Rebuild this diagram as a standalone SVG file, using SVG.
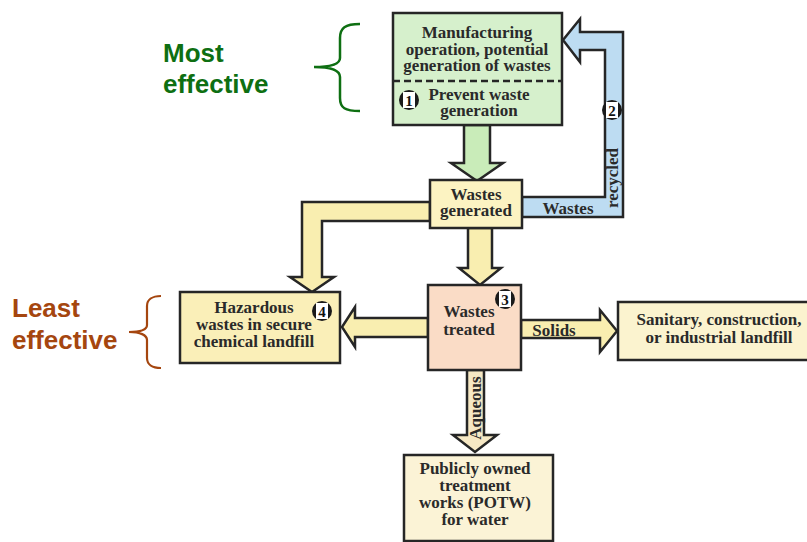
<svg xmlns="http://www.w3.org/2000/svg" width="807" height="542" viewBox="0 0 807 542">
<style>
.box{stroke:#262626;stroke-width:2.5}
.arr{stroke:#262626;stroke-width:2.5;stroke-linejoin:miter}
.t{font-family:"Liberation Serif",serif;font-weight:bold;font-size:17px;fill:#2a2a2a;text-anchor:middle}
.side{font-family:"Liberation Sans",Arial,sans-serif;font-weight:bold;font-size:26px}
.num{font-family:"Liberation Serif",serif;font-weight:bold;font-size:15px;fill:#111;text-anchor:middle}
</style>
<rect width="807" height="542" fill="#ffffff"/>
<g id="connectors">
<polygon class="arr" fill="#c9ecb9" points="464,125 490,125 490,163 503,163 477,181 451,163 464,163"/>
<polygon class="arr" fill="#bddcf2" points="522,197 605,197 605,50 580,50 580,62 563,40 580,19 580,32 623,32 623,217 522,217"/>
<polygon class="arr" fill="#f9eeb0" points="430,202 302,202 302,277 290,277 312,292 334,277 322,277 322,221 430,221"/>
<polygon class="arr" fill="#f9eeb0" points="468,228 492,228 492,268 501,268 480,285 459,268 468,268"/>
<polygon class="arr" fill="#f9eeb0" points="428,318 355,318 355,307 342,327 355,347 355,337 428,337"/>
<polygon class="arr" fill="#f9eeb0" points="521,320 600,320 600,310 617,331 600,352 600,338 521,338"/>
<polygon class="arr" fill="#f6e8c4" points="467,370 484,370 484,435 497,435 475,452 453,435 467,435"/>
<text class="t" x="568" y="214">Wastes</text>
<text class="t" transform="translate(618,178) rotate(-90)">recycled</text>
<text class="t" x="554" y="336">Solids</text>
<text class="t" transform="translate(481,408) rotate(-90)">Aqueous</text>
<g id="badge2"><circle cx="612" cy="110" r="10" fill="#1a1a1a"/><rect x="606" y="102" width="12" height="16" fill="#fff"/><text class="num" x="612" y="115.5">2</text></g>
</g>
<g id="manufacturing">
<rect class="box" x="393" y="13" width="169" height="112" fill="#d6f0cc"/>
<line x1="393" y1="81" x2="562" y2="81" stroke="#262626" stroke-width="2.5" stroke-dasharray="7,4"/>
<text class="t" x="477" y="38">Manufacturing</text>
<text class="t" x="477" y="55">operation, potential</text>
<text class="t" x="477" y="71">generation of wastes</text>
<text class="t" x="479" y="100">Prevent waste</text>
<text class="t" x="479" y="116">generation</text>
<circle cx="409" cy="100" r="10" fill="#1a1a1a"/><rect x="403" y="92" width="12" height="16" fill="#fff"/><text class="num" x="409" y="105.5">1</text>
</g>
<g id="wastes-generated">
<rect class="box" x="430" y="180" width="92" height="48" fill="#fcf3c2"/>
<text class="t" x="476" y="200">Wastes</text>
<text class="t" x="476" y="216">generated</text>
</g>
<g id="wastes-treated">
<rect class="box" x="428" y="285" width="93" height="85" fill="#fadcc6"/>
<text class="t" x="469" y="317">Wastes</text>
<text class="t" x="469" y="335">treated</text>
<circle cx="505" cy="299" r="10" fill="#1a1a1a"/><rect x="499" y="291" width="12" height="16" fill="#fff"/><text class="num" x="505" y="304.5">3</text>
</g>
<g id="hazardous">
<rect class="box" x="180" y="292" width="160" height="71" fill="#faefb8"/>
<text class="t" x="254" y="313">Hazardous</text>
<text class="t" x="254" y="330">wastes in secure</text>
<text class="t" x="254" y="347">chemical landfill</text>
<circle cx="322" cy="311" r="10" fill="#1a1a1a"/><rect x="316" y="303" width="12" height="16" fill="#fff"/><text class="num" x="322" y="316.5">4</text>
</g>
<g id="sanitary">
<rect class="box" x="618" y="302" width="200" height="58" fill="#fbf3cf"/>
<text class="t" x="719" y="325">Sanitary, construction,</text>
<text class="t" x="719" y="343">or industrial landfill</text>
</g>
<g id="potw">
<rect class="box" x="404" y="455" width="149" height="86" fill="#fbf3d6"/>
<text class="t" x="475" y="474">Publicly owned</text>
<text class="t" x="475" y="491">treatment</text>
<text class="t" x="475" y="508">works (POTW)</text>
<text class="t" x="475" y="525">for water</text>
</g>
<g id="most-effective">
<text class="side" fill="#0e6f12" x="163" y="62">Most</text>
<text class="side" fill="#0e6f12" x="163" y="93">effective</text>
<path d="M360,24 C345,24 340,28 340,38 L340,58 C340,64 331,67 314,67 C331,67 340,70 340,77 L340,98 C340,108 345,111 360,111" fill="none" stroke="#0e6f12" stroke-width="2.5"/>
</g>
<g id="least-effective">
<text class="side" fill="#a5460f" x="12" y="317">Least</text>
<text class="side" fill="#a5460f" x="12" y="349">effective</text>
<path d="M161,296 C152,296 147,300 147,306 L147,325 C147,330 140,332 129,332 C140,332 147,335 147,340 L147,358 C147,364 152,368 161,368" fill="none" stroke="#a5460f" stroke-width="2.2"/>
</g>
</svg>
